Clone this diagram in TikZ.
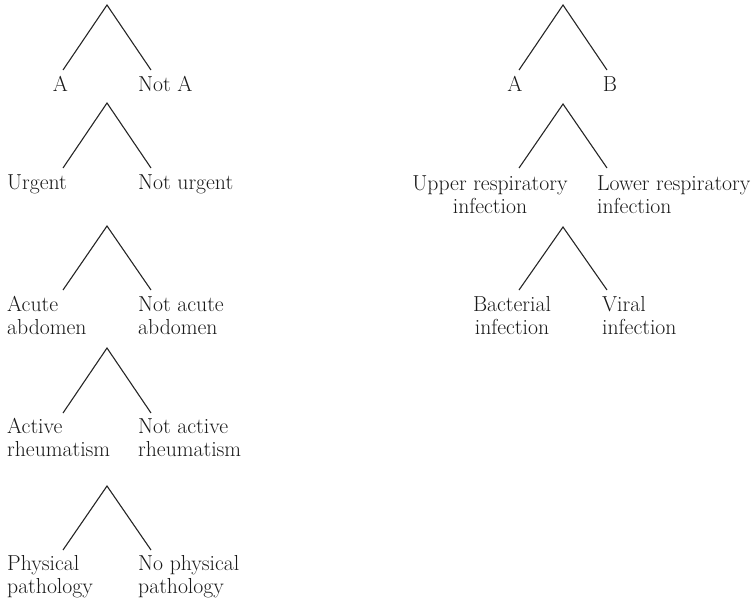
\documentclass[tikz,border=0pt]{standalone}
\begin{document}
\begin{tikzpicture}[x=1pt,y=-1pt,
    branch/.style={line width=1.1pt,black!85},
    lbl/.style={inner sep=0pt,anchor=base west,align=left,font=\fontsize{21.7}{23.5}\selectfont,text=black!90}]
  \useasboundingbox (0,0) rectangle (754,603);
  % left tree
  \coordinate (lt1) at (107,5);
  \coordinate (lt1l) at (63,70);
  \coordinate (lt1r) at (151,70);
  \draw[branch] (lt1l) -- (lt1) -- (lt1r);
  \node[lbl,anchor=base] (la) at (60.5,91) {A};
  \node[lbl] (lnota) at (138,91) {Not A};
  \coordinate (lt2) at (107,103);
  \coordinate (lt2l) at (63,168);
  \coordinate (lt2r) at (151,168);
  \draw[branch] (lt2l) -- (lt2) -- (lt2r);
  \node[lbl] (urgent) at (7,189) {Urgent};
  \node[lbl] (noturgent) at (138,189) {Not urgent};
  \coordinate (lt3) at (107,226);
  \coordinate (lt3l) at (63,290);
  \coordinate (lt3r) at (151,290);
  \draw[branch] (lt3l) -- (lt3) -- (lt3r);
  \node[lbl] (acute) at (7,334.5) {Acute\\abdomen};
  \node[lbl] (notacute) at (138,334.5) {Not acute\\abdomen};
  \coordinate (lt4) at (107,348);
  \coordinate (lt4l) at (63,413);
  \coordinate (lt4r) at (151,413);
  \draw[branch] (lt4l) -- (lt4) -- (lt4r);
  \node[lbl] (active) at (7,456.5) {Active\\rheumatism};
  \node[lbl] (notactive) at (138,456.5) {Not active\\rheumatism};
  \coordinate (lt5) at (107,486);
  \coordinate (lt5l) at (63,550);
  \coordinate (lt5r) at (151,550);
  \draw[branch] (lt5l) -- (lt5) -- (lt5r);
  \node[lbl] (physical) at (7,593.5) {Physical\\pathology};
  \node[lbl] (nophysical) at (138,593.5) {No physical\\pathology};
  % right tree
  \coordinate (rt1) at (563,5);
  \coordinate (rt1l) at (519,70);
  \coordinate (rt1r) at (607,70);
  \draw[branch] (rt1l) -- (rt1) -- (rt1r);
  \node[lbl,anchor=base] (ra) at (515,91) {A};
  \node[lbl,anchor=base] (rb) at (610,91) {B};
  \coordinate (rt2) at (563,104);
  \coordinate (rt2l) at (519,168);
  \coordinate (rt2r) at (607,168);
  \draw[branch] (rt2l) -- (rt2) -- (rt2r);
  \node[lbl,anchor=base,align=center] (upper) at (490,213.5) {Upper respiratory\\infection};
  \node[lbl] (lower) at (597,213.5) {Lower respiratory\\infection};
  \coordinate (rt3) at (563,227);
  \coordinate (rt3l) at (519,290);
  \coordinate (rt3r) at (607,290);
  \draw[branch] (rt3l) -- (rt3) -- (rt3r);
  \node[lbl,anchor=base,align=center] (bacterial) at (512,334.5) {Bacterial\\infection};
  \node[lbl] (viral) at (602,334.5) {Viral\\infection};
\end{tikzpicture}
\end{document}
